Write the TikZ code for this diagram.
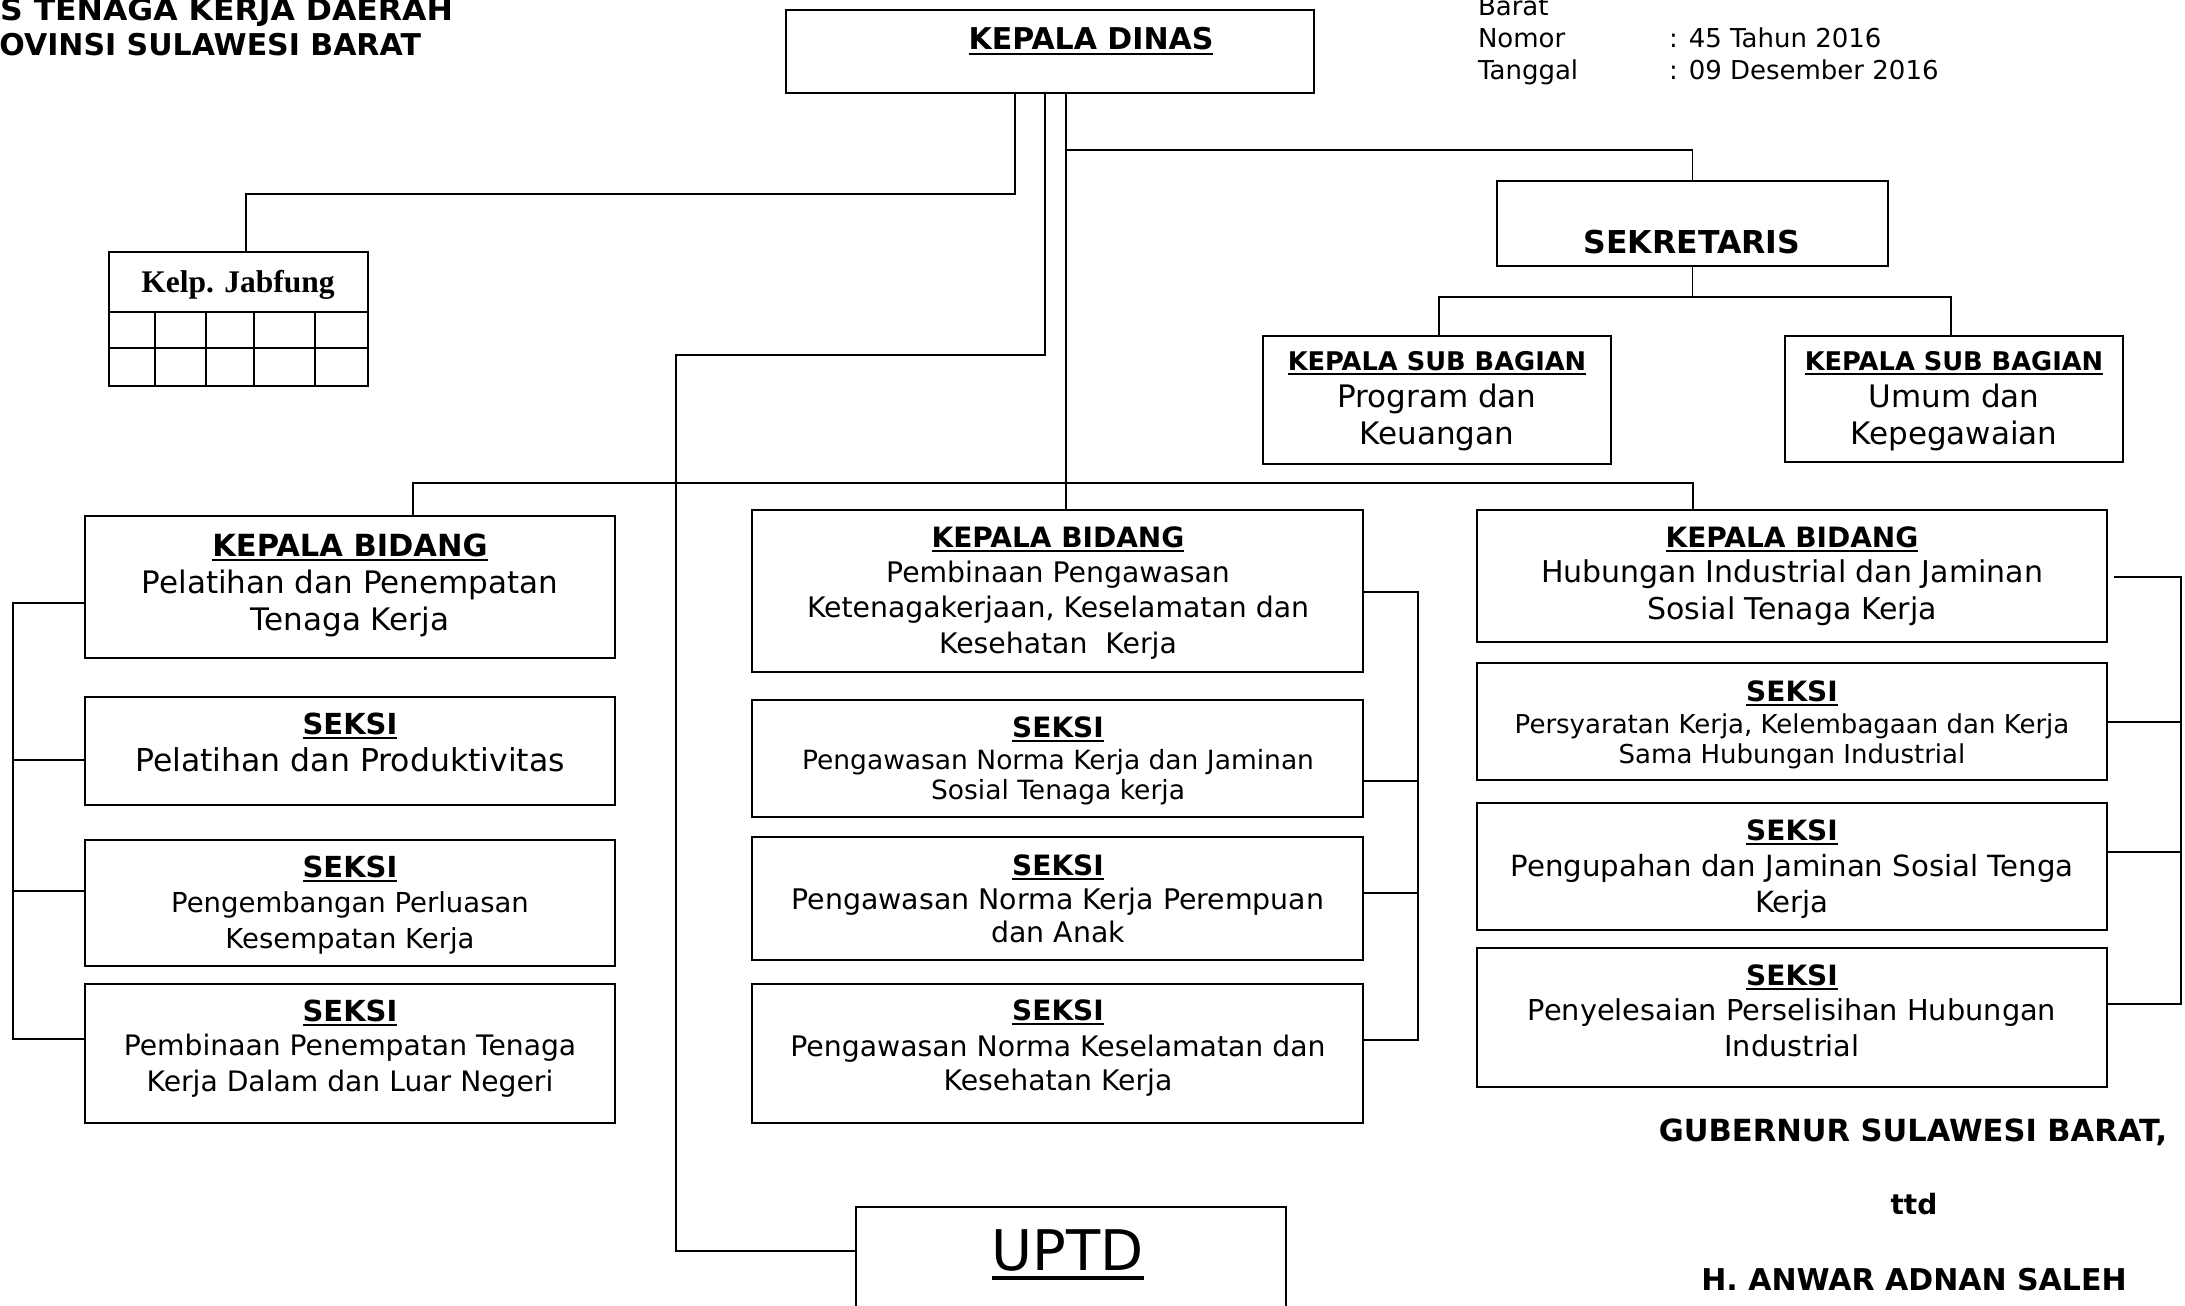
\documentclass[tikz,border=0pt]{standalone}
\usepackage{fontspec}
\setmainfont{DejaVu Sans}
\newfontfamily\jabfont{Liberation Serif}
\usetikzlibrary{fit}
\newcommand\fs[1]{\fontsize{#1}{#1}\selectfont}
\newcommand\ul[1]{\setbox0=\hbox{#1}\leavevmode\rlap{\vrule height -3pt depth 5.2pt width \wd0}\copy0}
\newcommand\ulbig[1]{\setbox0=\hbox{#1}\leavevmode\rlap{\vrule height -6pt depth 10pt width \wd0}\copy0}
\tikzset{
  box/.style={draw, line width=2.2pt, inner sep=0pt, rectangle},
  conn/.style={line width=1.8pt},
  tx/.style={anchor=base, inner sep=0pt, outer sep=0pt},
}
\newcommand\bx[5]{\node[box, fit={(#2,#3) (#4,#5)}] (#1) {};}
\newcommand\tl[5]{\node[tx, font=\fs{#4}] (#1) at (#2,#3) {#5};}
\begin{document}
\begin{tikzpicture}[x=1pt,y=-1pt]
\useasboundingbox (0,0) rectangle (2185,1306);
% boxes
\bx{kd}{786}{10}{1314}{93}
\bx{jab}{109}{252}{368}{386}
\bx{sek}{1497}{181}{1888}{266}
\bx{ksba}{1263}{336}{1611}{464}
\bx{ksbb}{1785}{336}{2123}{462}
\bx{kba}{85}{516}{615}{658}
\bx{sa1}{85}{697}{615}{805}
\bx{sa2}{85}{840}{615}{966}
\bx{sa3}{85}{984}{615}{1123}
\bx{kbb}{752}{510}{1363}{672}
\bx{sb1}{752}{700}{1363}{817}
\bx{sb2}{752}{837}{1363}{960}
\bx{sb3}{752}{984}{1363}{1123}
\bx{kbc}{1477}{510}{2107}{642}
\bx{sc1}{1477}{663}{2107}{780}
\bx{sc2}{1477}{803}{2107}{930}
\bx{sc3}{1477}{948}{2107}{1087}
\bx{uptd}{856}{1207}{1286}{1340}
% jabfung grid
\draw[conn] (jab.west |- 0,312) -- (jab.east |- 0,312);
\draw[conn] (jab.west |- 0,348) -- (jab.east |- 0,348);
\foreach \gx in {155,206,254,315} \draw[conn] (\gx,312) -- (\gx,386);
% connectors
\draw[conn] (kd.south -| 1015,0) |- (246,194) -- (jab.north -| 246,0);
\draw[conn] (kd.south -| 1045,0) |- (676,355) |- (uptd.west |- 0,1251);
\draw[conn] (kd.south -| 1066,0) -- (kbb.north -| 1066,0);
\draw[conn] (1066,150) -| (sek.north);
\draw[conn] (kba.north -| 413,0) -- (413,483) -| (kbc.north -| 1693,0);
\draw[conn] (sek.south) -- (sek.south |- 0,297);
\draw[conn] (ksba.north -| 1439,0) -- (1439,297) -| (ksbb.north -| 1951,0);
% brackets
\draw[conn] (kba.west |- 0,603) -| (13,1039) -- (sa3.west |- 0,1039);
\draw[conn] (13,760) -- (sa1.west |- 0,760);
\draw[conn] (13,891) -- (sa2.west |- 0,891);
\draw[conn] (kbb.east |- 0,592) -| (1418,1040) -- (sb3.east |- 0,1040);
\draw[conn] (1418,781) -- (sb1.east |- 0,781);
\draw[conn] (1418,893) -- (sb2.east |- 0,893);
\draw[conn] ([xshift=6pt]kbc.east |- 0,577) -| (2181,1004) -- (sc3.east |- 0,1004);
\draw[conn] (2181,722) -- (sc1.east |- 0,722);
\draw[conn] (2181,852) -- (sc2.east |- 0,852);
% header texts
\node[tx, anchor=base east, font=\fs{30}\bfseries] (hd1) at (453,21) {\scalebox{1.05}[1]{S TENAGA KERJA DAERAH}};
\node[tx, anchor=base east, font=\fs{30}\bfseries] (hd2) at (421,56) {OVINSI SULAWESI BARAT};
\node[tx, anchor=base west, font=\fs{26}] (brt) at (1478,16) {Barat};
\node[tx, anchor=base west, font=\fs{26}] (nmr) at (1478,48) {Nomor};
\node[tx, anchor=base west, font=\fs{26}] (tgl) at (1478,79) {Tanggal};
\node[tx, anchor=base west, font=\fs{26}] (nmrv) at (1669,48) {: 45 Tahun 2016};
\node[tx, anchor=base west, font=\fs{26}] (tglv) at (1669,79) {: 09 Desember 2016};
% box texts
\tl{kdt}{1091}{50}{30}{\bfseries\ul{KEPALA DINAS}}
\node[tx, font=\fs{31.5}\jabfont\bfseries] (jabt) at (238,292) {Kelp. Jabfung};
\tl{sekt}{1692}{253}{31.5}{\bfseries SEKRETARIS}
\tl{ksba1}{1437}{370}{25.7}{\bfseries\ul{KEPALA SUB BAGIAN}}
\tl{ksba2}{1437}{407}{31}{Program dan}
\tl{ksba3}{1437}{444}{31}{Keuangan}
\tl{ksbb1}{1954}{370}{25.7}{\bfseries\ul{KEPALA SUB BAGIAN}}
\tl{ksbb2}{1954}{407}{31}{Umum dan}
\tl{ksbb3}{1954}{444}{31}{Kepegawaian}
% column 1
\tl{kba1}{350}{556}{30.5}{\bfseries\ul{KEPALA BIDANG}}
\tl{kba2}{350}{593}{31}{Pelatihan dan Penempatan}
\tl{kba3}{350}{630}{31}{Tenaga Kerja}
\tl{sa11}{350}{734}{29}{\bfseries\ul{SEKSI}}
\tl{sa12}{350}{771}{31.5}{Pelatihan dan Produktivitas}
\tl{sa21}{350}{877}{29}{\bfseries\ul{SEKSI}}
\tl{sa22}{350}{912}{27.5}{Pengembangan Perluasan}
\tl{sa23}{350}{948}{27.5}{Kesempatan Kerja}
\tl{sa31}{350}{1021}{29}{\bfseries\ul{SEKSI}}
\tl{sa32}{350}{1055}{28.2}{Pembinaan Penempatan Tenaga}
\tl{sa33}{350}{1091}{28.2}{Kerja Dalam dan Luar Negeri}
% column 2
\tl{kbb1}{1058}{547}{28}{\bfseries\ul{KEPALA BIDANG}}
\tl{kbb2}{1058}{582}{28.3}{Pembinaan Pengawasan}
\tl{kbb3}{1058}{617}{28.3}{Ketenagakerjaan, Keselamatan dan}
\tl{kbb4}{1058}{653}{28.3}{Kesehatan\ \ Kerja}
\tl{sb11}{1058}{737}{28}{\bfseries\ul{SEKSI}}
\tl{sb12}{1058}{769}{26.5}{Pengawasan Norma Kerja dan Jaminan}
\tl{sb13}{1058}{799}{26.5}{Sosial Tenaga kerja}
\tl{sb21}{1058}{875}{28}{\bfseries\ul{SEKSI}}
\tl{sb22}{1058}{909}{28.4}{Pengawasan Norma Kerja Perempuan}
\tl{sb23}{1058}{942}{28.4}{dan Anak}
\tl{sb31}{1058}{1020}{28}{\bfseries\ul{SEKSI}}
\tl{sb32}{1058}{1056}{28.3}{Pengawasan Norma Keselamatan dan}
\tl{sb33}{1058}{1090}{28.3}{Kesehatan Kerja}
% column 3
\tl{kbc1}{1792}{547}{28}{\bfseries\ul{KEPALA BIDANG}}
\tl{kbc2}{1792}{582}{30}{Hubungan Industrial dan Jaminan}
\tl{kbc3}{1792}{619}{30}{Sosial Tenaga Kerja}
\tl{sc11}{1792}{701}{28}{\bfseries\ul{SEKSI}}
\tl{sc12}{1792}{733}{26}{Persyaratan Kerja, Kelembagaan dan Kerja}
\tl{sc13}{1792}{763}{26}{Sama Hubungan Industrial}
\tl{sc21}{1792}{840}{28}{\bfseries\ul{SEKSI}}
\tl{sc22}{1792}{876}{29.2}{Pengupahan dan Jaminan Sosial Tenga}
\tl{sc23}{1792}{912}{29.2}{Kerja}
\tl{sc31}{1792}{985}{28}{\bfseries\ul{SEKSI}}
\tl{sc32}{1792}{1020}{28.8}{Penyelesaian Perselisihan Hubungan}
\tl{sc33}{1792}{1056}{28.8}{Industrial}
% UPTD and signature
\tl{uptdt}{1068}{1270}{56}{\ulbig{UPTD}}
\tl{gub}{1913}{1141}{30.5}{\bfseries GUBERNUR SULAWESI BARAT,}
\tl{ttd}{1914}{1214}{28}{\bfseries ttd}
\tl{nama}{1914}{1290}{30}{\bfseries H. ANWAR ADNAN SALEH}
\end{tikzpicture}
\end{document}
